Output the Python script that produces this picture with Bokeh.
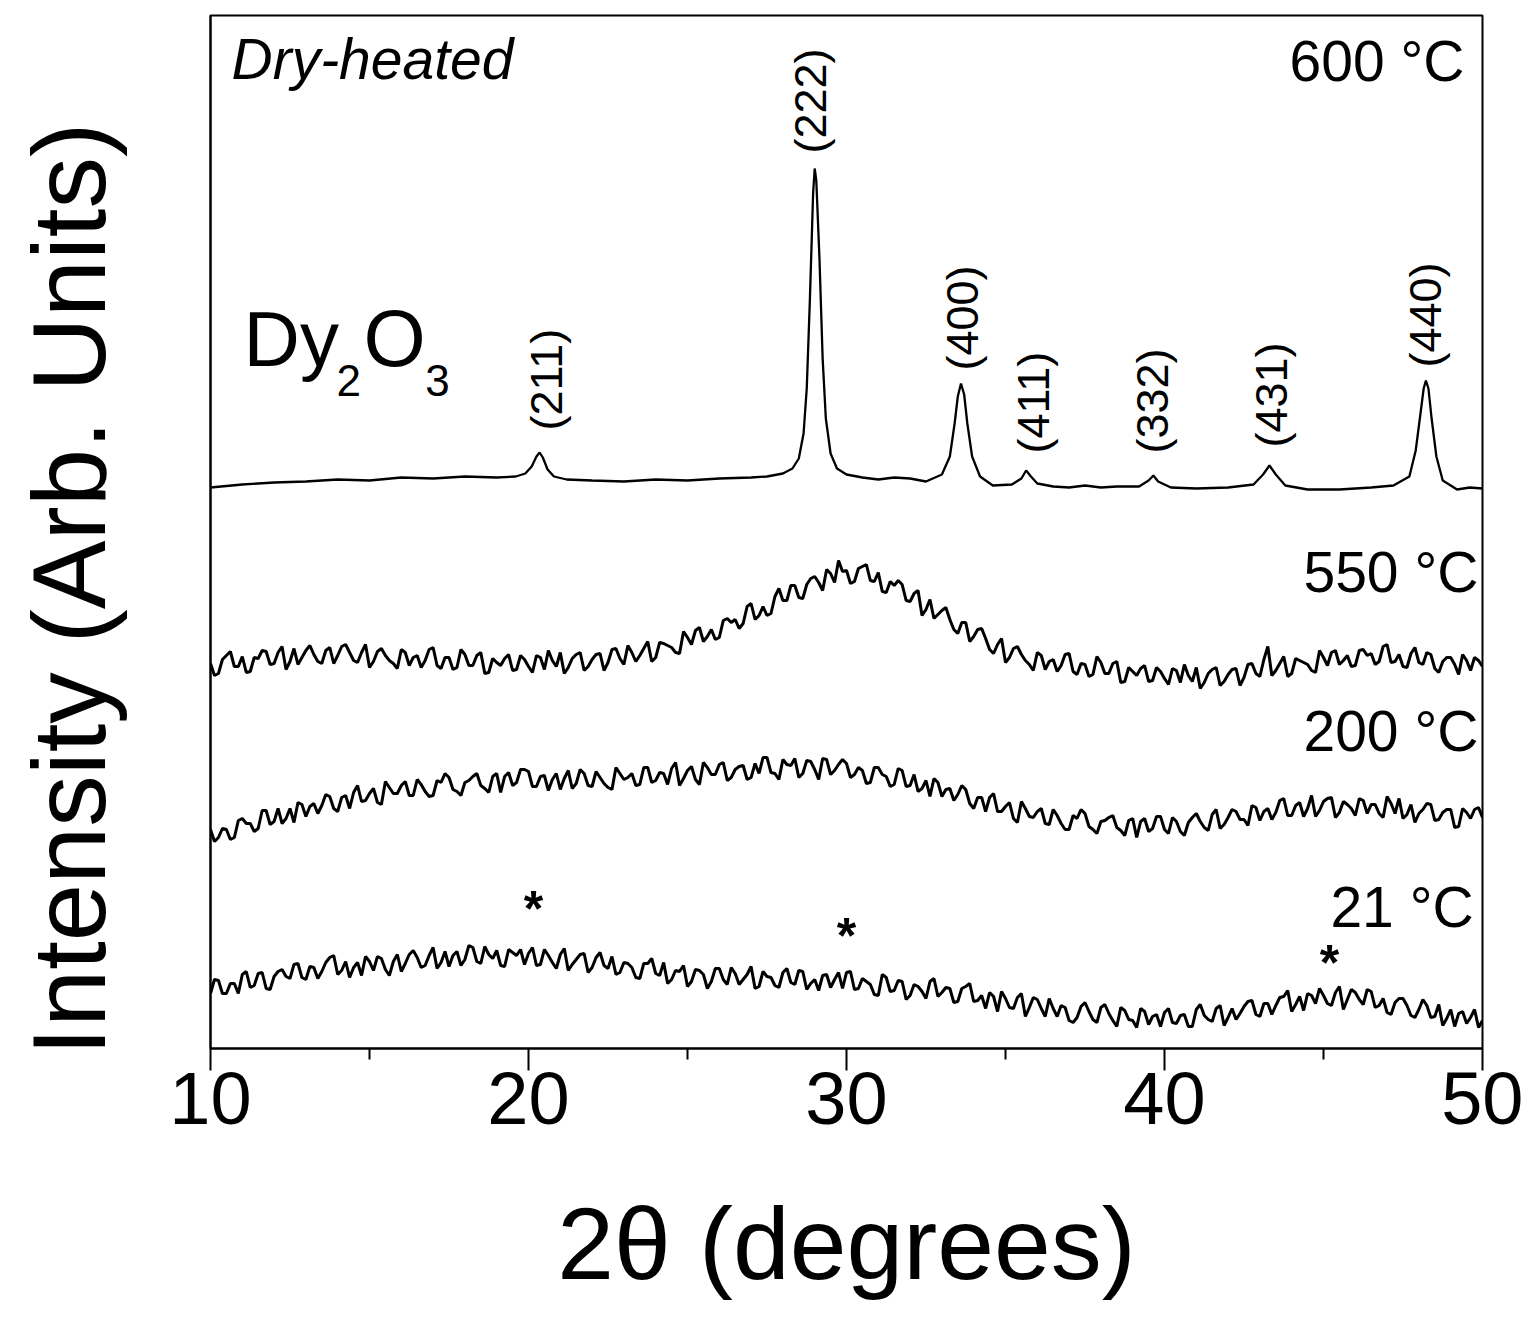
import math
import numpy as np
from bokeh.plotting import figure
from bokeh.models import Range1d, FixedTicker, Label
from bokeh.embed import file_html
from bokeh.resources import INLINE

# ---------------- data (intensity in arbitrary units, offset stacked) ----------------
x_ticks = [10, 20, 30, 40, 50]
x_minor = [15, 25, 35, 45]

# 600 °C crystalline pattern
x600 = [10, 11, 12, 13, 14, 15, 16, 17, 18, 19, 19.6, 19.9, 20.1, 20.25, 20.35, 20.45, 20.6, 20.8,
        21.2, 22, 23, 24, 25, 26, 27, 27.5, 28.0, 28.3, 28.5, 28.65, 28.75, 28.85, 28.95, 29.0,
        29.05, 29.15, 29.25, 29.35, 29.5, 29.7, 30.0, 30.5, 31, 31.5, 32, 32.5, 33.0, 33.25, 33.4,
        33.5, 33.6, 33.7, 33.8, 33.95, 34.2, 34.6, 35.2, 35.5, 35.65, 35.8, 36.0, 36.5, 37, 37.5,
        38, 38.5, 39.2, 39.5, 39.65, 39.8, 40.2, 41, 42, 42.8, 43.1, 43.3, 43.5, 43.8, 44.5, 45.5,
        46.5, 47.2, 47.7, 47.9, 48.05, 48.15, 48.22, 48.3, 48.4, 48.55, 48.75, 49.2, 49.6, 50]
y600 = [561, 564, 566, 567, 569, 568, 571, 570, 572, 571, 572, 575, 582, 592, 596, 591, 579, 572,
        569, 568, 567, 569, 568, 570, 571, 572, 575, 580, 590, 615, 660, 750, 855, 880,
        868, 790, 690, 630, 595, 580, 574, 571, 569, 571, 570, 567, 574, 592, 625,
        652, 665, 654, 625, 592, 572, 563, 564, 570, 578, 572, 565, 562, 561, 563,
        561, 562, 562, 568, 573, 567, 561, 560, 561, 564, 574, 583, 574, 563, 559, 559,
        561, 563, 572, 598, 635, 660, 668, 660, 630, 592, 568, 559, 561, 560]

# amorphous patterns: readings every 0.25 degree (10 .. 50) and the readings between them
x_grid = np.linspace(10, 50, 161)
x_mid = np.linspace(10.125, 49.875, 160)

y550_grid = [385, 375, 393, 382, 392, 377, 390, 397, 385, 402, 387, 384, 398, 394, 385, 401,
             393, 404, 388, 396, 381, 397, 393, 385, 399, 383, 393, 388, 401, 380, 391, 381,
             394, 383, 396, 376, 386, 390, 378, 393,
             382, 393, 379, 388, 396, 381, 394, 378, 389, 395, 386, 400, 384, 396, 393, 407,
             391, 405, 401, 395, 411, 418, 407, 419, 411, 430, 429, 425, 445, 433, 433, 452,
             448, 463, 451, 464, 472, 458, 475, 488,
             478, 467, 482, 468, 476, 456, 463, 464, 447, 458, 439, 430, 438, 429, 415, 426,
             412, 420, 399, 404, 386, 400, 394, 384, 396, 379, 389, 383, 395, 374, 384, 374,
             386, 375, 387, 367, 377, 380, 367, 381,
             370, 380, 366, 373, 381, 366, 379, 363, 374, 380, 371, 385, 372, 402, 378, 392,
             375, 388, 384, 376, 391, 396, 384, 393, 383, 399, 395, 387, 404, 387, 382, 395,
             386, 396, 380, 387, 391, 374, 388, 391,
             382]
y550_mid = [373, 389, 397, 382, 376, 391, 398, 384, 396, 379, 400, 391, 403, 387, 398, 385,
            402, 396, 386, 404, 387, 400, 388, 380, 396, 391, 381, 399, 383, 391, 379, 399,
            383, 393, 375, 390, 383, 394, 379, 389,
            376, 391, 398, 382, 375, 390, 396, 382, 394, 378, 399, 390, 403, 387, 400, 387,
            406, 403, 396, 417, 404, 421, 412, 409, 428, 426, 420, 442, 429, 442, 435, 460,
            448, 463, 450, 470, 466, 479, 466, 477,
            465, 480, 484, 467, 457, 467, 468, 448, 455, 433, 449, 434, 441, 419, 426, 407,
            419, 410, 395, 410, 391, 402, 388, 378, 393, 387, 377, 394, 377, 385, 372, 392,
            375, 385, 366, 381, 373, 383, 368, 377,
            364, 378, 384, 367, 360, 375, 381, 367, 379, 363, 384, 375, 389, 373, 385, 372,
            390, 386, 378, 398, 383, 398, 388, 382, 398, 393, 384, 402, 386, 394, 381, 401,
            384, 394, 376, 391, 384, 394, 378, 388]

y200_grid = [219, 211, 219, 211, 230, 225, 220, 238, 227, 225, 240, 246, 232, 245, 243, 252,
             237, 253, 256, 247, 255, 246, 267, 255, 263, 253, 269, 257, 253, 266, 271, 257,
             266, 272, 263, 256, 275, 272, 263, 279,
             277, 262, 273, 269, 259, 278, 265, 275, 262, 271, 261, 281, 269, 275, 264, 281,
             268, 275, 280, 263, 278, 269, 286, 274, 284, 268, 279, 283, 271, 275, 291, 275,
             289, 283, 271, 288, 279, 290, 274, 284,
             285, 274, 278, 266, 281, 272, 264, 278, 263, 257, 268, 270, 252, 260, 254, 259,
             240, 251, 251, 237, 242, 230, 247, 232, 237, 225, 239, 225, 219, 230, 235, 219,
             227, 231, 221, 213, 230, 227, 217, 232,
             219, 231, 217, 226, 235, 221, 234, 220, 231, 237, 229, 243, 228, 240, 236, 250,
             233, 246, 240, 232, 247, 251, 236, 244, 233, 248, 244, 235, 252, 235, 230, 244,
             235, 245, 228, 236, 239, 222, 236, 239,
             231]
y200_mid = [207, 220, 209, 228, 225, 217, 238, 224, 240, 230, 226, 244, 242, 235, 254, 240,
            251, 240, 263, 248, 260, 244, 261, 255, 267, 253, 264, 252, 268, 275, 259, 253,
            268, 275, 260, 272, 256, 276, 266, 279,
            262, 272, 258, 275, 270, 260, 279, 263, 277, 265, 259, 275, 271, 263, 281, 266,
            276, 264, 286, 270, 282, 264, 281, 274, 286, 271, 282, 269, 285, 291, 276, 269,
            284, 290, 275, 287, 269, 289, 278, 289,
            271, 281, 265, 281, 274, 262, 280, 262, 274, 260, 252, 266, 259, 248, 263, 245,
            251, 237, 255, 237, 246, 226, 240, 231, 240, 224, 233, 219, 233, 239, 222, 215,
            228, 233, 218, 228, 211, 230, 220, 232,
            215, 227, 213, 231, 227, 218, 239, 224, 239, 229, 223, 241, 237, 229, 248, 233,
            243, 232, 253, 238, 250, 231, 247, 240, 250, 235, 244, 231, 245, 250, 234, 226,
            239, 244, 229, 239, 221, 240, 230, 241]

y21_grid = [55, 68, 55, 65, 74, 61, 75, 60, 72, 79, 70, 85, 69, 81, 77, 91,
            74, 87, 81, 73, 87, 92, 79, 87, 77, 94, 91, 83, 101, 86, 82, 97,
            89, 101, 85, 94, 98, 82, 96, 99,
            95, 83, 99, 86, 94, 78, 89, 95, 81, 96, 80, 74, 86, 81, 70, 85,
            75, 86, 69, 77, 62, 79, 74, 67, 80, 64, 75, 69, 82, 62, 72, 63,
            76, 66, 78, 59, 69, 73, 61, 76,
            76, 59, 70, 64, 53, 71, 58, 67, 53, 62, 50, 70, 56, 60, 47, 62,
            47, 53, 56, 37, 50, 40, 55, 41, 49, 32, 40, 43, 28, 31, 46, 29,
            41, 35, 22, 38, 28, 40, 24, 34,
            36, 26, 33, 22, 39, 33, 27, 43, 31, 29, 42, 48, 32, 45, 43, 52,
            37, 52, 55, 45, 53, 43, 62, 49, 56, 44, 57, 43, 36, 46, 50, 33,
            39, 43, 32, 23, 39, 35, 25, 39,
            28]
y21_mid = [69, 55, 65, 55, 77, 63, 76, 59, 77, 72, 84, 71, 82, 70, 86, 93,
           78, 71, 86, 92, 78, 90, 73, 94, 85, 98, 81, 93, 80, 97, 93, 83,
           103, 87, 102, 90, 83, 99, 93, 84,
           101, 84, 93, 80, 100, 84, 94, 76, 91, 83, 92, 76, 85, 71, 85, 90,
           73, 65, 78, 83, 67, 78, 60, 80, 69, 81, 64, 74, 60, 77, 71, 61,
           80, 64, 77, 65, 58, 74, 69, 60,
           77, 60, 67, 54, 74, 57, 68, 49, 64, 57, 67, 52, 61, 46, 60, 65,
           48, 40, 52, 57, 41, 51, 32, 51, 40, 50, 32, 41, 26, 42, 37, 26,
           44, 28, 41, 29, 21, 37, 32, 22,
           40, 25, 34, 22, 44, 29, 40, 23, 40, 35, 47, 34, 45, 34, 51, 58,
           44, 38, 53, 60, 45, 56, 39, 59, 49, 59, 41, 50, 34, 50, 43, 31,
           49, 31, 44, 30, 22, 37, 31, 21]

temp_labels = ["600 °C", "550 °C", "200 °C", "21 °C"]
temp_label_x = [49.43, 49.87, 49.87, 49.72]
temp_label_y = [988, 477, 318, 142]

peak_labels = ["(211)", "(222)", "(400)", "(411)", "(332)", "(431)", "(440)"]
peak_label_x = [20.57, 28.87, 33.65, 35.88, 39.62, 43.36, 48.21]
peak_label_y = [618, 895, 678, 595, 595, 601, 681]

star_x = [20.16, 30.0, 45.19]
star_y = [140, 113, 86]

FONT = "Liberation Sans"


def interleave(grid, mid):
    out = []
    for i, g in enumerate(grid):
        out.append(g)
        if i < len(mid):
            out.append(mid[i])
    return out


x_amorph = interleave(list(x_grid), list(x_mid))
y550 = interleave(y550_grid, y550_mid)
y200 = interleave(y200_grid, y200_mid)
y21 = interleave(y21_grid, y21_mid)

# ---------------- figure ----------------
p = figure(width=1523, height=1312, x_range=Range1d(10, 50), y_range=Range1d(0, 1033),
           output_backend="svg", toolbar_location=None,
           min_border_left=210, min_border_right=41, min_border_top=15, min_border_bottom=264)
p.background_fill_color = "white"
p.border_fill_color = "white"
p.grid.visible = False
p.outline_line_color = "black"
p.outline_line_width = 2

xa = p.xaxis[0]
xa.ticker = FixedTicker(ticks=x_ticks, minor_ticks=x_minor)
xa.axis_line_width = 2
xa.major_tick_line_width = 2
xa.minor_tick_line_width = 2
xa.major_tick_in = 0
xa.major_tick_out = 22
xa.minor_tick_in = 0
xa.minor_tick_out = 11
xa.major_label_text_font = FONT
xa.major_label_text_font_size = "74px"
xa.major_label_text_color = "black"
xa.major_label_standoff = 2
xa.axis_label = "2θ (degrees)"
xa.axis_label_text_font = FONT
xa.axis_label_text_font_size = "102px"
xa.axis_label_text_font_style = "normal"
xa.axis_label_text_color = "black"
xa.axis_label_standoff = 60

ya = p.yaxis[0]
ya.ticker = FixedTicker(ticks=[])
ya.axis_line_width = 2
ya.major_tick_out = 0
ya.major_tick_in = 0
ya.minor_tick_out = 0
ya.minor_tick_in = 0
ya.major_label_text_font_size = "0px"
# trailing no-break spaces move the centred title toward the bottom, as in the original
ya.axis_label = "Intensity (Arb. Units)" + "\u00a0" * 4
ya.axis_label_text_font = FONT
ya.axis_label_text_font_size = "103px"
ya.axis_label_text_font_style = "normal"
ya.axis_label_text_color = "black"
ya.axis_label_standoff = 84

# ---------------- curves ----------------
p.line(x600, y600, line_color="black", line_width=2.3)
p.line(x_amorph, y550, line_color="black", line_width=3.0)
p.line(x_amorph, y200, line_color="black", line_width=3.0)
p.line(x_amorph, y21, line_color="black", line_width=3.0)

# ---------------- annotations ----------------
for t, x, y in zip(temp_labels, temp_label_x, temp_label_y):
    p.add_layout(Label(x=x, y=y, text=t, text_font=FONT, text_font_size="57px",
                       text_align="right", text_baseline="alphabetic", text_color="black"))

for t, x, y in zip(peak_labels, peak_label_x, peak_label_y):
    p.add_layout(Label(x=x, y=y, text=t, angle=math.pi / 2, text_font=FONT,
                       text_font_size="45px", text_align="left", text_baseline="middle",
                       text_color="black"))

for x, y in zip(star_x, star_y):
    p.add_layout(Label(x=x, y=y, text="*", text_font=FONT, text_font_size="50px",
                       text_font_style="bold", text_align="center",
                       text_baseline="alphabetic", text_color="black"))

p.add_layout(Label(x=10.66, y=990, text="Dry-heated", text_font=FONT, text_font_size="57px",
                   text_font_style="italic", text_align="left", text_baseline="alphabetic",
                   text_color="black"))

# Dy2O3 with subscripts
p.add_layout(Label(x=11.04, y=710, text="Dy", text_font=FONT, text_font_size="78px",
                   text_align="left", text_baseline="alphabetic", text_color="black"))
p.add_layout(Label(x=13.96, y=668, text="2", text_font=FONT, text_font_size="44px",
                   text_align="left", text_baseline="alphabetic", text_color="black"))
p.add_layout(Label(x=14.81, y=710, text="O", text_font=FONT, text_font_size="80px",
                   text_align="left", text_baseline="alphabetic", text_color="black"))
p.add_layout(Label(x=16.75, y=668, text="3", text_font=FONT, text_font_size="44px",
                   text_align="left", text_baseline="alphabetic", text_color="black"))

open("out.html", "w").write(file_html(p, INLINE))
